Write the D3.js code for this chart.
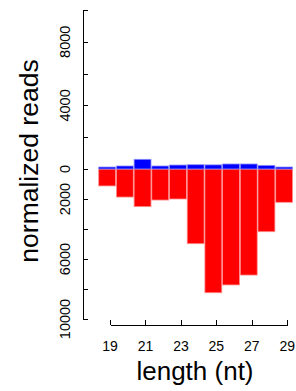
<!DOCTYPE html>
<html lang="en-us">
<meta charset="utf-8">
<head>
  <title> read lengths </title>
  <style>
  body {
    margin: 0;
    background: #fff;
  }

  text {
    font-family: "Liberation Sans", Arial, sans-serif;
    fill: #000;
  }

  .axis path, .axis line {
    stroke: #000;
    stroke-width: 1px;
    shape-rendering: crispEdges;
  }
  </style>
</head>
<body>
  <svg id="lengths" width="296" height="391"></svg>
  <script src="https://d3js.org/d3.v7.min.js"></script>
  <script>

// read lengths (nt) and normalized reads for each strand
var lengths = [19, 20, 21, 22, 23, 24, 25, 26, 27, 28, 29];
var sense = [125, 190, 610, 190, 250, 270, 260, 315, 315, 230, 125];
var antisense = [1130, 1870, 2510, 2070, 2000, 4980, 8250, 7730, 7070, 4180, 2220];

var xTicks = [19, 21, 23, 25, 27, 29];
var upTicks = [0, 2000, 4000, 6000, 8000, 10000];
var upLabels = [0, 4000, 8000];
var downTicks = [0, 2000, 4000, 6000, 8000, 10000];
var downLabels = [2000, 6000, 10000];

var svg = d3.select("svg#lengths");

var axisX = 83, zeroY = 169;

// the bars and the length axis are a little offset from each other
var xBar = d3.scaleLinear().domain([18.5, 29.5]).range([98.3, 293]);
var xAxisScale = d3.scaleLinear().domain([19, 29]).range([110, 287.3]);

// upper and lower halves use different scales
var yUp = d3.scaleLinear().domain([0, 10000]).range([zeroY, 10]);
var yDown = d3.scaleLinear().domain([0, 10000]).range([zeroY, 319]);

var bars = lengths.map(function(d, i) {
  return {len: d, up: sense[i], down: antisense[i]};
});

// red bars going down
svg.append("g").selectAll("rect")
    .data(bars)
  .enter().append("rect")
    .attr("x", function(d) { return xBar(d.len - 0.5) + 0.4; })
    .attr("width", function(d) { return xBar(d.len + 0.5) - xBar(d.len - 0.5) - 0.8; })
    .attr("y", zeroY)
    .attr("height", function(d) { return yDown(d.down) - zeroY; })
    .attr("fill", "#ff0000")
    .attr("stroke", "#ff9090")
    .attr("stroke-width", 0.8);

// blue bars going up
svg.append("g").selectAll("rect")
    .data(bars)
  .enter().append("rect")
    .attr("x", function(d) { return xBar(d.len - 0.5) + 0.4; })
    .attr("width", function(d) { return xBar(d.len + 0.5) - xBar(d.len - 0.5) - 0.8; })
    .attr("y", function(d) { return yUp(d.up); })
    .attr("height", function(d) { return zeroY - yUp(d.up); })
    .attr("fill", "#0000ff")
    .attr("stroke", "#9090ff")
    .attr("stroke-width", 0.8);

// y axis, ticks pointing inwards
var yUpAxis = d3.axisRight(yUp).tickValues(upTicks).tickSize(5).tickFormat("");
var yDownAxis = d3.axisRight(yDown).tickValues(downTicks).tickSize(5).tickFormat("");

svg.append("g")
    .attr("class", "axis")
    .attr("transform", "translate(" + axisX + ",0)")
    .call(yUpAxis)
    .call(function(g) { g.select(".domain").attr("d", "M0," + yUp(10000) + "V" + zeroY); });

svg.append("g")
    .attr("class", "axis")
    .attr("transform", "translate(" + axisX + ",0)")
    .call(yDownAxis)
    .call(function(g) { g.select(".domain").attr("d", "M0," + zeroY + "V" + yDown(10000)); });

// rotated y labels
svg.append("g").selectAll("text")
    .data(upLabels)
  .enter().append("text")
    .attr("transform", function(d) { return "translate(70," + yUp(d) + ") rotate(-90)"; })
    .attr("text-anchor", "middle")
    .style("font-size", "14.5px")
    .text(function(d) { return d; });

svg.append("g").selectAll("text")
    .data(downLabels)
  .enter().append("text")
    .attr("transform", function(d) { return "translate(70," + yDown(d) + ") rotate(-90)"; })
    .attr("text-anchor", "middle")
    .style("font-size", "14.5px")
    .text(function(d) { return d; });

// x axis
svg.append("g")
    .attr("class", "axis")
    .attr("transform", "translate(0,325)")
    .call(d3.axisTop(xAxisScale).tickValues(xTicks).tickSize(5).tickSizeOuter(0).tickFormat(""));

svg.append("g").selectAll("text")
    .data(xTicks)
  .enter().append("text")
    .attr("x", function(d) { return xAxisScale(d); })
    .attr("y", 351)
    .attr("text-anchor", "middle")
    .style("font-size", "14px")
    .text(function(d) { return d; });

// axis titles
svg.append("text")
    .attr("x", 195)
    .attr("y", 380)
    .attr("text-anchor", "middle")
    .style("font-size", "26px")
    .text("length (nt)");

svg.append("text")
    .attr("transform", "translate(37.5,161) rotate(-90)")
    .attr("text-anchor", "middle")
    .style("font-size", "26.5px")
    .text("normalized reads");

</script>
</body>
</html>
